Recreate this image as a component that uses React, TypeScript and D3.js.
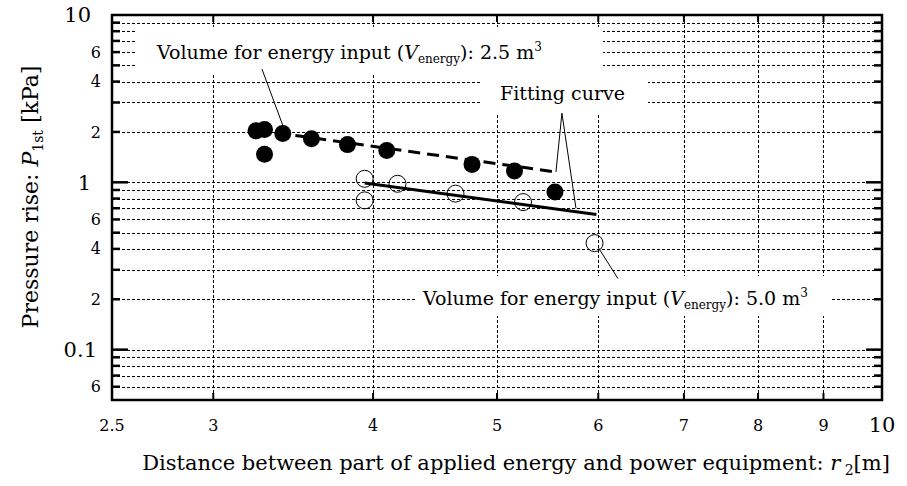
import React from "react";
import * as d3 from "d3";

// ---- data ----
const filledX = [3.24, 3.29, 3.29, 3.40, 3.58, 3.82, 4.10, 4.78, 5.16, 5.55];
const filledY = [2.03, 2.07, 1.47, 1.96, 1.82, 1.68, 1.55, 1.28, 1.17, 0.875];
const openX = [3.94, 3.94, 4.18, 4.64, 5.24, 5.96];
const openY = [1.05, 0.78, 0.98, 0.856, 0.762, 0.433];
const fit25X = [3.25, 5.56];
const fit25Y = [2.05, 1.153];
const fit50X = [3.94, 5.98];
const fit50Y = [0.99, 0.643];

const xTicks = [2.5, 3, 4, 5, 6, 7, 8, 9, 10];
const xTickLabels = ["2.5", "3", "4", "5", "6", "7", "8", "9", "10"];
const xGrid = [3, 4, 5, 6, 7, 8, 9];
const yMajor = [10, 1, 0.1];
const yMajorLabels = ["10", "1", "0.1"];
const yMinorLabeled = [6, 4, 2, 0.6, 0.4, 0.2, 0.06];
const yMinorLabels = ["6", "4", "2", "6", "4", "2", "6"];
const yGrid = [9, 8, 7, 6, 5, 4, 3, 2, 1, 0.9, 0.8, 0.7, 0.6, 0.5, 0.4, 0.3, 0.2, 0.1, 0.09, 0.08, 0.07, 0.06];

const W = 907, H = 486;
const L = 112, R = 882, T = 15, B = 400;
const FONT = "'DejaVu Serif', serif";

export default function App() {
  const x = d3.scaleLog().domain([2.5, 10]).range([L, R]);
  const y = d3.scaleLog().domain([0.05, 10]).range([B, T]);
  const line = d3.line<[number, number]>().x(d => x(d[0])).y(d => y(d[1]));
  const fit25 = fit25X.map((v, i) => [v, fit25Y[i]] as [number, number]);
  const fit50 = fit50X.map((v, i) => [v, fit50Y[i]] as [number, number]);
  const majorSet = new Set([1, 0.1]);

  return (
    <svg width={W} height={H} style={{ position: "absolute", left: 0, top: 0, background: "#fff" }} fontFamily={FONT}>
      <rect x={0} y={0} width={W} height={H} fill="#fff" />
      {/* grid */}
      <g stroke="#000" strokeWidth={1} strokeDasharray="3,2">
        {yGrid.map((v, i) => (
          <line key={"gy" + i} x1={L} x2={R} y1={Math.round(y(v)) + 0.5} y2={Math.round(y(v)) + 0.5} />
        ))}
        {xGrid.map((v, i) => (
          <line key={"gx" + i} x1={Math.round(x(v)) + 0.5} x2={Math.round(x(v)) + 0.5} y1={T} y2={B} />
        ))}
      </g>
      {/* label background boxes */}
      <rect x={137} y={27} width={466} height={48} fill="#fff" />
      <rect x={482} y={75} width={166} height={39} fill="#fff" />
      <rect x={415} y={276} width={417} height={40} fill="#fff" />

      {/* axes frame */}
      <rect x={L} y={T} width={R - L} height={B - T} fill="none" stroke="#000" strokeWidth={2.5} />
      {/* ticks */}
      <g stroke="#000" strokeWidth={2.5}>
        {yGrid.map((v, i) => {
          const len = majorSet.has(v) ? 16 : 8;
          const yy = y(v);
          return (
            <g key={"yt" + i}>
              <line x1={L} x2={L + len} y1={yy} y2={yy} />
              <line x1={R} x2={R - len} y1={yy} y2={yy} />
            </g>
          );
        })}
        {xGrid.map((v, i) => (
          <g key={"xt" + i}>
            <line x1={x(v)} x2={x(v)} y1={B} y2={B - 7} strokeWidth={2} />
            <line x1={x(v)} x2={x(v)} y1={T} y2={T + 7} strokeWidth={2} />
          </g>
        ))}
      </g>

      {/* y tick labels */}
      {yMajor.map((v, i) => (
        <text key={"ym" + i} x={v === 0.1 ? 97 : 91} y={y(v)} dy="0.35em" textAnchor="end" fontSize={21}>
          {yMajorLabels[i]}
        </text>
      ))}
      {yMinorLabeled.map((v, i) => (
        <text key={"yn" + i} x={101} y={y(v)} dy="0.35em" textAnchor="end" fontSize={16}>
          {yMinorLabels[i]}
        </text>
      ))}
      {/* x tick labels */}
      {xTicks.map((v, i) => (
        <text key={"xl" + i} x={x(v)} y={425} dy="0.35em" textAnchor="middle" fontSize={v === 10 ? 21 : 16}>
          {xTickLabels[i]}
        </text>
      ))}

      {/* axis titles */}
      <text x={516} y={470} textAnchor="middle" fontSize={21}>
        Distance between part of applied energy and power equipment:{" "}
        <tspan fontStyle="italic">r</tspan>
        <tspan fontSize={14} dy={5}> 2</tspan>
        <tspan dy={-5}>[m]</tspan>
      </text>
      <text transform={`translate(38,197) rotate(-90)`} textAnchor="middle" fontSize={22}>
        Pressure rise:{" "}
        <tspan fontStyle="italic">P</tspan>
        <tspan fontSize={14} dy={5}>1st</tspan>
        <tspan dy={-5}> [kPa]</tspan>
      </text>

      {/* fitting curves */}
      <path d={line(fit25) || ""} fill="none" stroke="#000" strokeWidth={3} strokeDasharray="12,7" />
      <path d={line(fit50) || ""} fill="none" stroke="#000" strokeWidth={3} />

      {/* points */}
      {filledX.map((v, i) => (
        <circle key={"f" + i} cx={x(v)} cy={y(filledY[i])} r={8.5} fill="#000" />
      ))}
      {openX.map((v, i) => (
        <circle key={"o" + i} cx={x(v)} cy={y(openY[i])} r={8.5} fill="none" stroke="#000" strokeWidth={1} />
      ))}

      {/* annotations */}
      <g stroke="#000" strokeWidth={1} fill="none">
        <line x1={x(3.275)} y1={y(4.75)} x2={x(3.40)} y2={y(2.19)} />
        <polyline points={`${x(5.56)},${y(1.153)} ${x(5.62)},${y(2.59)} ${x(5.764)},${y(0.699)}`} />
        <line x1={x(6.0)} y1={y(0.408)} x2={x(6.216)} y2={y(0.266)} />
      </g>
      <text x={157} y={59} fontSize={19}>
        Volume for energy input (<tspan fontStyle="italic">V</tspan>
        <tspan fontSize={12} dy={4}>energy</tspan>
        <tspan dy={-4}>): 2.5 m</tspan>
        <tspan fontSize={12} dy={-8}>3</tspan>
      </text>
      <text x={500} y={100} fontSize={19}>Fitting curve</text>
      <text x={423} y={305} fontSize={19}>
        Volume for energy input (<tspan fontStyle="italic">V</tspan>
        <tspan fontSize={12} dy={4}>energy</tspan>
        <tspan dy={-4}>): 5.0 m</tspan>
        <tspan fontSize={12} dy={-8}>3</tspan>
      </text>
    </svg>
  );
}
